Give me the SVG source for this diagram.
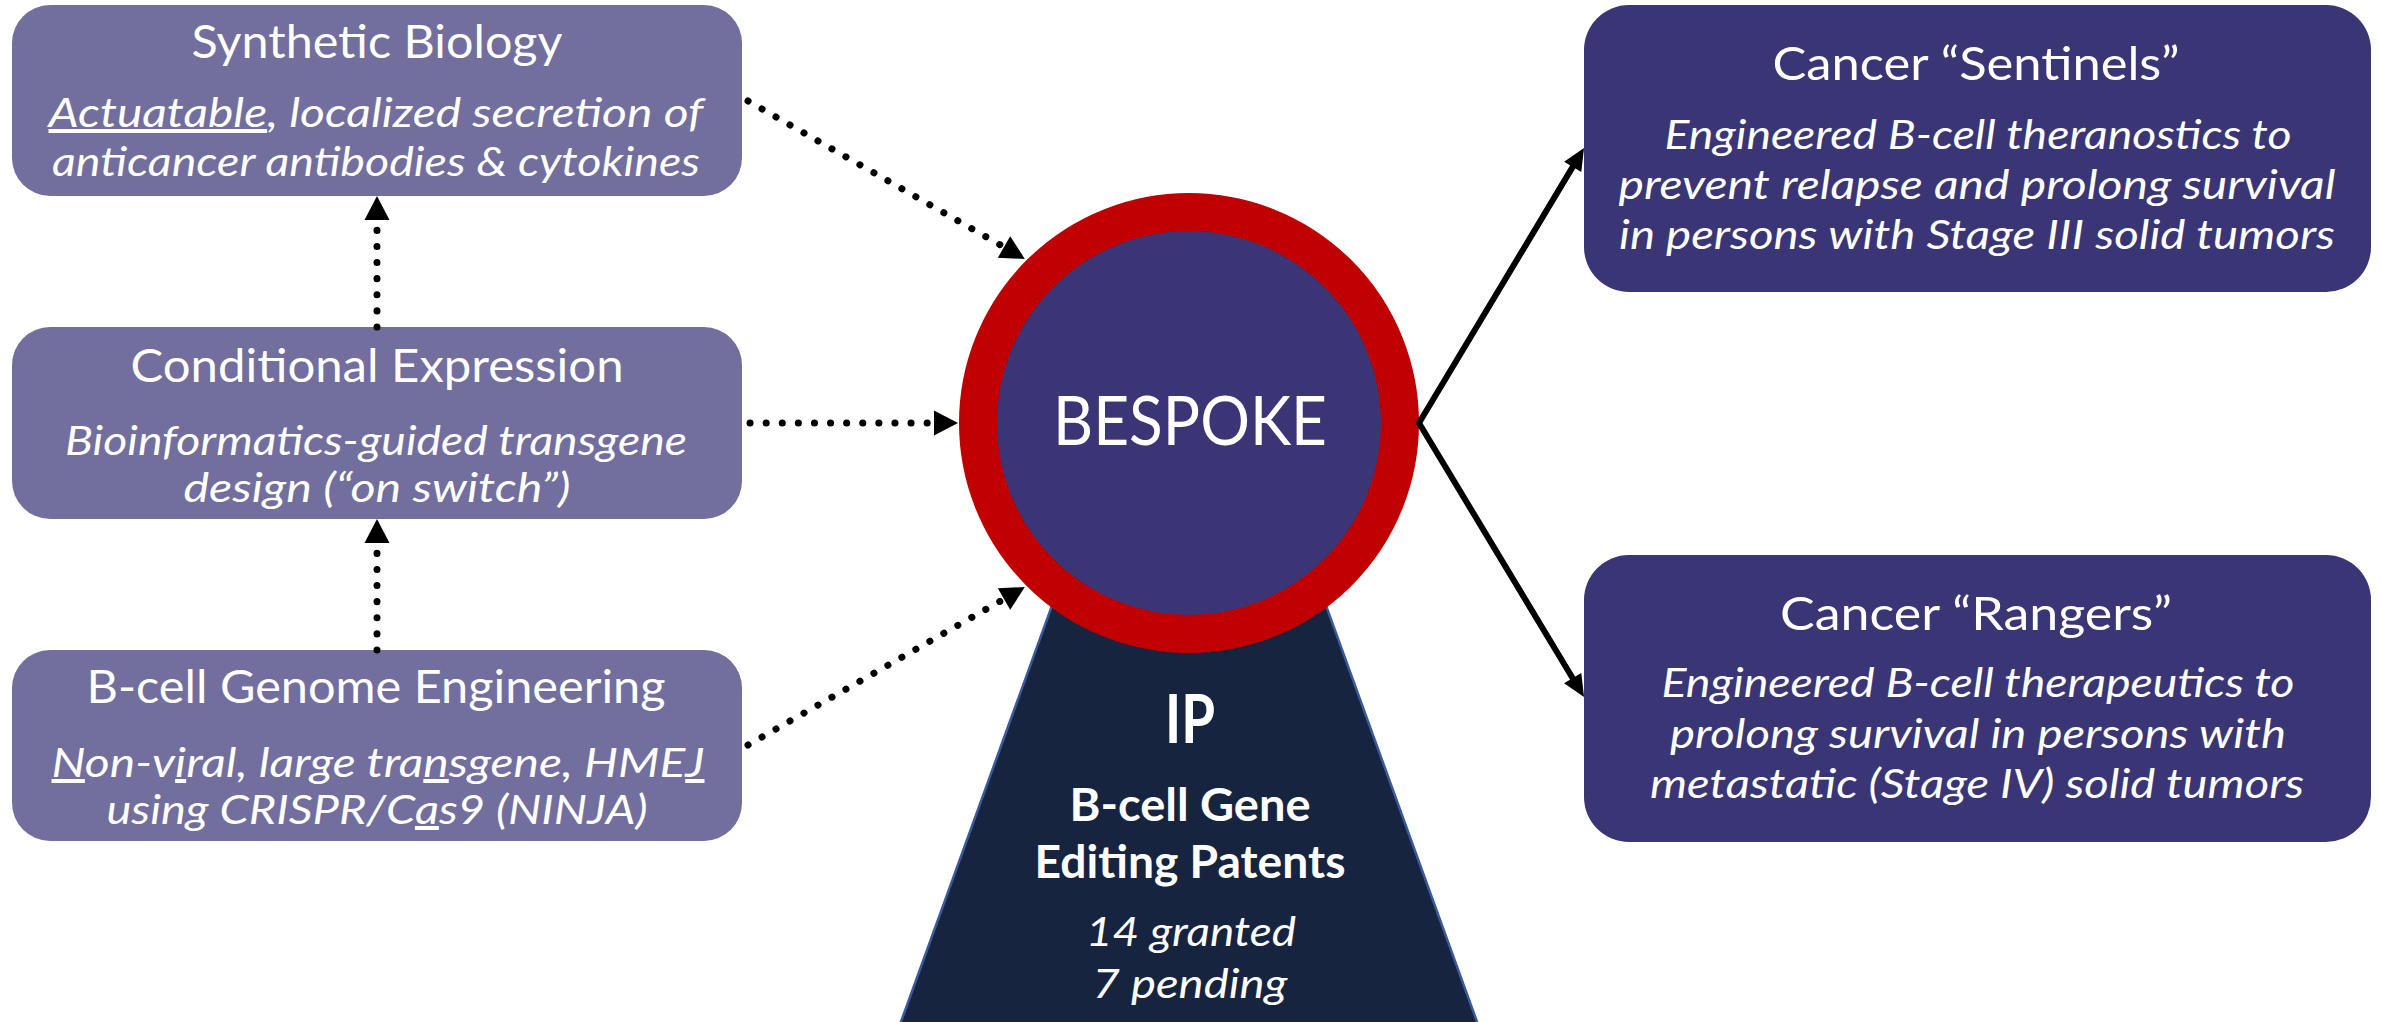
<svg xmlns="http://www.w3.org/2000/svg" width="2382" height="1022" viewBox="0 0 2382 1022">
  <defs>
    <style>
      .box-left { fill: #726e9d; }
      .box-right { fill: #3a3575; }
      .t { font-family: Lato, "Liberation Sans", sans-serif; fill: #ffffff; text-anchor: middle; }
      .title { font-size: 46px; }
      .body { font-size: 40px; font-style: italic; }
      .bold { font-weight: bold; }
      .u { text-decoration: underline; }
      .dotted { fill: none; stroke: #000000; stroke-width: 7; stroke-linecap: round; stroke-dasharray: 0.1 16; }
      .solid { fill: none; stroke: #000000; stroke-width: 6; stroke-linecap: round; }
    </style>
    <marker id="head-dotted" markerUnits="userSpaceOnUse" markerWidth="24" markerHeight="25" refX="0" refY="12.5" orient="auto" overflow="visible">
      <path d="M0,0 L24,12.5 L0,25 Z" fill="#000000"/>
    </marker>
    <marker id="head-solid" markerUnits="userSpaceOnUse" markerWidth="22" markerHeight="20" refX="0" refY="10" orient="auto" overflow="visible">
      <path d="M0,0 L22,10 L0,20 Z" fill="#000000"/>
    </marker>
  </defs>

  <rect width="2382" height="1022" fill="#ffffff"/>

  <!-- IP wedge sits behind the central circle -->
  <g id="ip">
    <polygon points="1189,228 898,1030 1480,1030" fill="#17243f" stroke="#3a5a9a" stroke-width="2.5"/>
    <text class="t bold" x="1190" y="743" font-size="66" textLength="50" lengthAdjust="spacingAndGlyphs">IP</text>
    <text class="t bold" x="1190" y="821" font-size="46" textLength="241" lengthAdjust="spacingAndGlyphs">B-cell Gene</text>
    <text class="t bold" x="1190" y="878" font-size="46" textLength="311" lengthAdjust="spacingAndGlyphs">Editing Patents</text>
    <text class="t body" x="1191" y="946" font-size="44" textLength="210" lengthAdjust="spacingAndGlyphs">14 granted</text>
    <text class="t body" x="1190" y="998" font-size="44" textLength="195" lengthAdjust="spacingAndGlyphs">7 pending</text>
  </g>

  <g id="bespoke">
    <circle cx="1189" cy="423" r="211" fill="#3b3575" stroke="#c00000" stroke-width="38"/>
    <text class="t" x="1190" y="445" font-size="68" textLength="274" lengthAdjust="spacingAndGlyphs">BESPOKE</text>
  </g>

  <g id="synthetic-biology">
    <rect class="box-left" x="12" y="5" width="730" height="191" rx="38"/>
    <text class="t title" x="377" y="58" textLength="371" lengthAdjust="spacingAndGlyphs">Synthetic Biology</text>
    <text class="t body" x="376" y="127" textLength="655" lengthAdjust="spacingAndGlyphs"><tspan class="u">Actuatable</tspan>, localized secretion of</text>
    <text class="t body" x="376" y="176" textLength="648" lengthAdjust="spacingAndGlyphs">anticancer antibodies &amp; cytokines</text>
  </g>

  <g id="conditional-expression">
    <rect class="box-left" x="12" y="327" width="730" height="192" rx="38"/>
    <text class="t title" x="377" y="382" textLength="493" lengthAdjust="spacingAndGlyphs">Conditional Expression</text>
    <text class="t body" x="376" y="455" font-size="38" textLength="622" lengthAdjust="spacingAndGlyphs">Bioinformatics-guided transgene</text>
    <text class="t body" x="377" y="502" font-size="38" textLength="387" lengthAdjust="spacingAndGlyphs">design (“on switch”)</text>
  </g>

  <g id="bcell-genome-engineering">
    <rect class="box-left" x="12" y="650" width="730" height="191" rx="38"/>
    <text class="t title" x="376" y="703" textLength="579" lengthAdjust="spacingAndGlyphs">B-cell Genome Engineering</text>
    <text class="t body" x="378" y="777" textLength="653" lengthAdjust="spacingAndGlyphs"><tspan class="u">N</tspan>on-v<tspan class="u">i</tspan>ral, large tra<tspan class="u">n</tspan>sgene, HME<tspan class="u">J</tspan></text>
    <text class="t body" x="377" y="824" textLength="541" lengthAdjust="spacingAndGlyphs">using CRISPR/C<tspan class="u">a</tspan>s9 (NINJA)</text>
  </g>

  <g id="cancer-sentinels">
    <rect class="box-right" x="1584" y="5" width="787" height="287" rx="45"/>
    <text class="t title" x="1976" y="80" textLength="407" lengthAdjust="spacingAndGlyphs">Cancer “Sentinels”</text>
    <text class="t body" x="1978" y="149" textLength="627" lengthAdjust="spacingAndGlyphs">Engineered B-cell theranostics to</text>
    <text class="t body" x="1977" y="199" textLength="717" lengthAdjust="spacingAndGlyphs">prevent relapse and prolong survival</text>
    <text class="t body" x="1977" y="249" textLength="716" lengthAdjust="spacingAndGlyphs">in persons with Stage III solid tumors</text>
  </g>

  <g id="cancer-rangers">
    <rect class="box-right" x="1584" y="555" width="787" height="287" rx="45"/>
    <text class="t title" x="1976" y="630" textLength="392" lengthAdjust="spacingAndGlyphs">Cancer “Rangers”</text>
    <text class="t body" x="1978" y="697" textLength="633" lengthAdjust="spacingAndGlyphs">Engineered B-cell therapeutics to</text>
    <text class="t body" x="1978" y="748" textLength="616" lengthAdjust="spacingAndGlyphs">prolong survival in persons with</text>
    <text class="t body" x="1977" y="798" textLength="654" lengthAdjust="spacingAndGlyphs">metastatic (Stage IV) solid tumors</text>
  </g>

  <g id="connectors">
    <!-- dotted feeds into BESPOKE and up the left stack -->
    <line class="dotted" x1="748" y1="101" x2="1004" y2="247" marker-end="url(#head-dotted)"/>
    <line class="dotted" x1="750" y1="423" x2="934" y2="423" marker-end="url(#head-dotted)"/>
    <line class="dotted" x1="748" y1="745" x2="1004" y2="599" marker-end="url(#head-dotted)"/>
    <line class="dotted" x1="377" y1="650" x2="377" y2="543" marker-end="url(#head-dotted)"/>
    <line class="dotted" x1="377" y1="327" x2="377" y2="220" marker-end="url(#head-dotted)"/>
    <!-- solid outputs to the two programmes -->
    <line class="solid" x1="1419" y1="423" x2="1572.7" y2="166.9" marker-end="url(#head-solid)"/>
    <line class="solid" x1="1419" y1="423" x2="1572.7" y2="678.2" marker-end="url(#head-solid)"/>
  </g>
</svg>
